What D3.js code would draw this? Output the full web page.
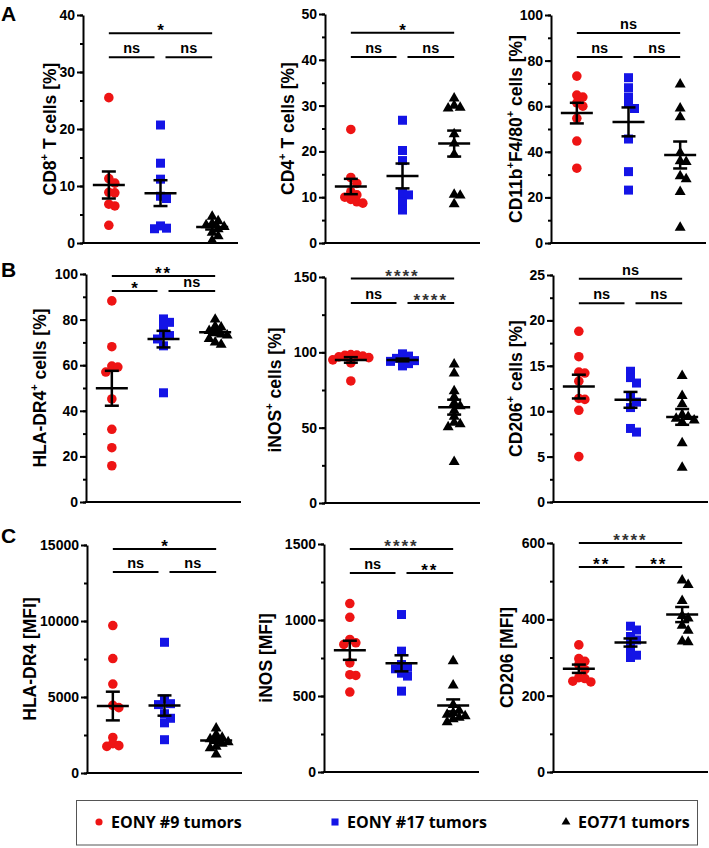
<!DOCTYPE html>
<html>
<head>
<meta charset="utf-8">
<script src="https://cdn.jsdelivr.net/npm/d3@7"></script>
<style>
  body { margin: 0; background: #fff; }
  svg { display: block; }
</style>
</head>
<body>
<div id="chart"></div>
<script>
// groups and colours
var groups = ['EONY #9 tumors', 'EONY #17 tumors', 'EO771 tumors'];
var groupColors = ['#ee1414', '#1414e6', '#000000'];

// row A: % of cells
var cd8Values = [
  [25.5, 11.3, 10.5, 8.8, 8.9, 6.8, 6.5, 3.1],
  [20.7, 14.0, 11.2, 8.2, 7.8, 3.0, 2.6, 2.5],
  [4.8, 4.0, 3.6, 3.3, 3.0, 2.6, 2.0, 1.4, 0.6]
];
var cd4Values = [
  [24.8, 14.3, 13.0, 11.2, 10.5, 10.0, 9.5, 9.0, 8.7],
  [26.8, 20.2, 18.0, 10.8, 10.5, 9.0, 7.2],
  [31.8, 30.2, 29.8, 29.6, 24.0, 22.0, 19.6, 10.8, 10.6, 8.7]
];
var cd11bValues = [
  [73.2, 64.9, 64.0, 61.5, 60.0, 54.7, 44.7, 32.8],
  [72.5, 68.1, 64.0, 61.3, 59.0, 45.6, 31.3, 23.2],
  [70.0, 59.5, 55.7, 40.0, 36.4, 36.0, 29.8, 28.5, 22.9, 7.2]
];

// row B: % of cells
var hlaPctValues = [
  [88.2, 68.1, 59.6, 59.2, 57.0, 45.2, 31.9, 23.8, 15.9],
  [80.3, 78.8, 77.5, 74.0, 73.0, 71.5, 68.5, 47.9],
  [80.5, 77.5, 77.0, 75.5, 74.5, 74.0, 73.5, 72.0, 70.5, 69.5]
];
var inosPctValues = [
  [98.5, 98.2, 98.0, 97.5, 97.0, 96.5, 95.0, 93.0, 81.0],
  [99.0, 97.5, 96.0, 95.0, 94.5, 94.0, 92.5, 91.0],
  [92.7, 86.7, 75.0, 71.0, 67.0, 65.0, 62.0, 58.0, 54.0, 53.0, 51.0, 28.0]
];
var cd206PctValues = [
  [18.8, 16.0, 14.3, 14.2, 13.3, 11.3, 11.4, 10.1, 5.0],
  [14.4, 13.7, 13.1, 11.6, 11.0, 10.4, 8.1, 7.7],
  [14.0, 11.8, 10.9, 9.7, 9.5, 9.3, 9.1, 8.9, 6.6, 3.9]
];

// row C: MFI
var hlaMfiValues = [
  [9700, 7530, 5850, 4450, 4300, 2340, 1930, 1800, 1750],
  [8600, 4860, 4560, 4500, 3900, 3600, 3300, 2190],
  [3000, 2600, 2400, 2300, 2200, 2100, 2000, 1800, 1700, 1300]
];
var inosMfiValues = [
  [1108, 1018, 872, 850, 839, 718, 640, 635, 526],
  [1036, 795, 707, 690, 679, 650, 631, 532],
  [736, 576, 449, 410, 395, 385, 375, 365, 355, 335]
];
var cd206MfiValues = [
  [333, 297, 290, 281, 268, 247, 245, 238, 236],
  [382, 372, 355, 346, 335, 318, 306, 300],
  [505, 493, 451, 412, 405, 386, 373, 345, 343]
];

var panelValues = [cd8Values, cd4Values, cd11bValues,
                   hlaPctValues, inosPctValues, cd206PctValues,
                   hlaMfiValues, inosMfiValues, cd206MfiValues];

// axis titles: [text, isSuperscript]
var panelTitles = [
  [['CD8'], ['+', 1], [' T cells [%]']],
  [['CD4'], ['+', 1], [' T cells [%]']],
  [['CD11b'], ['+', 1], ['F4/80'], ['+', 1], [' cells [%]']],
  [['HLA-DR4'], ['+', 1], [' cells [%]']],
  [['iNOS'], ['+', 1], [' cells [%]']],
  [['CD206'], ['+', 1], [' cells [%]']],
  [['HLA-DR4 [MFI]']],
  [['iNOS [MFI]']],
  [['CD206 [MFI]']]
];

var yMaxes     = [40, 50, 100, 100, 150, 25, 15000, 1500, 600];
var majorSteps = [10, 10, 20, 20, 50, 5, 5000, 500, 200];
var minorSteps = [5, 5, 10, 10, 25, 2.5, 2500, 250, 100];

// significance: [1 vs 3, 1 vs 2, 2 vs 3] and bar heights in data units [upper, lower]
var sigLabels = [
  ['*', 'ns', 'ns'], ['*', 'ns', 'ns'], ['ns', 'ns', 'ns'],
  ['**', '*', 'ns'], ['****', 'ns', '****'], ['ns', 'ns', 'ns'],
  ['*', 'ns', 'ns'], ['****', 'ns', '**'], ['****', '**', '**']
];
var sigHeights = [
  [36.8, 32.6], [45.9, 40.6], [92.1, 81.6],
  [99.1, 92.5], [149, 132.7], [24.6, 21.9],
  [14740, 13220], [1467, 1309], [600, 537]
];

var panelLetters = ['A', 'B', 'C'];

// layout
var W = 709, H = 848;
var axisWidth = 155;
var panelX      = [83, 325, 551, 86, 325, 553, 87, 324, 553];
var panelTop    = [15, 14, 15, 274, 277, 275, 545, 544, 543];
var panelBottom = [243, 243, 243, 502, 503, 502, 773, 772, 772];
var titleX      = [50, 288, 516, 40, 275, 516, 30, 266, 507];
var letterY     = [21, 277, 543];

var fontMain = '"Liberation Sans", Arial, sans-serif';

var svg = d3.select('#chart').append('svg')
    .attr('width', W)
    .attr('height', H)
    .style('font-family', fontMain);

var symbolTypes = [d3.symbolCircle, d3.symbolSquare, d3.symbolTriangle];
var symbolSizes = [72, 81, 52];

// spread overlapping points sideways, GraphPad style
function swarm(vals, y, minD, step) {
  var placed = [];
  vals.map(function(v, i) { return {v: v, i: i}; })
    .sort(function(a, b) { return b.v - a.v; })
    .forEach(function(p) {
      var py = y(p.v), k = 0, dx;
      while (true) {
        dx = k === 0 ? 0 : (k % 2 ? 1 : -1) * Math.ceil(k / 2) * step;
        var ok = placed.every(function(q) {
          return Math.hypot(q.dx - dx, q.py - py) >= minD;
        });
        if (ok || k > 6) break;
        k++;
      }
      placed.push({v: p.v, py: py, dx: dx});
    });
  return placed;
}

panelValues.forEach(function(values, pi) {
  var x0 = panelX[pi], top = panelTop[pi], bottom = panelBottom[pi];
  var g = svg.append('g').attr('transform', 'translate(' + x0 + ',0)');

  var y = d3.scaleLinear().domain([0, yMaxes[pi]]).range([bottom, top]);
  var x = d3.scaleBand().domain(groups).range([0, axisWidth]);
  var cx = function(gi) { return x(groups[gi]) + x.bandwidth() / 2; };

  // minor ticks
  g.append('g')
    .call(d3.axisLeft(y).tickValues(d3.range(0, yMaxes[pi] + 1e-9, minorSteps[pi]))
      .tickSize(3).tickSizeOuter(0).tickFormat(''))
    .call(function(a) { a.select('.domain').remove(); })
    .selectAll('line').attr('stroke-width', 2);

  // major ticks + labels
  var ax = g.append('g')
    .call(d3.axisLeft(y).tickValues(d3.range(0, yMaxes[pi] + 1e-9, majorSteps[pi]))
      .tickSize(6).tickSizeOuter(0).tickPadding(2).tickFormat(d3.format('d')));
  ax.select('.domain').attr('stroke-width', 2);
  ax.selectAll('line').attr('stroke-width', 2);
  ax.selectAll('text')
    .attr('font-size', 14)
    .attr('font-weight', 'bold')
    .attr('font-family', fontMain)
    .attr('fill', '#000');

  // x axis line
  g.append('line')
    .attr('x1', -1).attr('x2', axisWidth)
    .attr('y1', bottom).attr('y2', bottom)
    .attr('stroke', '#000').attr('stroke-width', 2);

  // y title
  var t = svg.append('text')
    .attr('transform', 'translate(' + titleX[pi] + ',' + ((top + bottom) / 2) + ') rotate(-90)')
    .attr('text-anchor', 'middle')
    .attr('dominant-baseline', 'central')
    .attr('font-size', 17.5)
    .attr('font-weight', 'bold');
  panelTitles[pi].forEach(function(seg) {
    var ts = t.append('tspan').text(seg[0]);
    if (seg[1]) ts.attr('baseline-shift', 'super').attr('font-size', 11);
  });

  // points
  values.forEach(function(vals, gi) {
    var pts = swarm(vals, y, 6, 6);
    g.selectAll('.pt' + gi)
      .data(pts)
      .enter().append('path')
      .attr('d', d3.symbol().type(symbolTypes[gi]).size(symbolSizes[gi]))
      .attr('transform', function(d) {
        return 'translate(' + (cx(gi) + d.dx) + ',' + (y(d.v) + (gi === 2 ? 1 : 0)) + ')';
      })
      .attr('fill', groupColors[gi]);

    // mean and SEM
    var m = d3.mean(vals);
    var sem = d3.deviation(vals) / Math.sqrt(vals.length);
    var eb = g.append('g').attr('stroke', '#000').attr('stroke-width', 2.5);
    eb.append('line').attr('x1', cx(gi) - 16).attr('x2', cx(gi) + 16)
      .attr('y1', y(m)).attr('y2', y(m));
    eb.append('line').attr('x1', cx(gi)).attr('x2', cx(gi))
      .attr('y1', y(m - sem)).attr('y2', y(m + sem));
    [m - sem, m + sem].forEach(function(v) {
      eb.append('line').attr('x1', cx(gi) - 7).attr('x2', cx(gi) + 7)
        .attr('y1', y(v)).attr('y2', y(v));
    });
  });

  // significance bars
  var hi = y(sigHeights[pi][0]), lo = y(sigHeights[pi][1]);
  var bars = [
    [cx(0), cx(2), hi, sigLabels[pi][0]],
    [cx(0), cx(1) - 6, lo, sigLabels[pi][1]],
    [cx(1) + 5, cx(2), lo, sigLabels[pi][2]]
  ];
  bars.forEach(function(b) {
    g.append('line')
      .attr('x1', b[0]).attr('x2', b[1])
      .attr('y1', b[2]).attr('y2', b[2])
      .attr('stroke', '#000').attr('stroke-width', 2);
    var star = b[3].indexOf('*') >= 0;
    g.append('text')
      .attr('x', (b[0] + b[1]) / 2)
      .attr('y', b[2] + (star ? 3 : -4))
      .attr('text-anchor', 'middle')
      .attr('font-size', star ? 17 : 14.5)
      .attr('font-weight', 'bold')
      .attr('fill', star && b[3].length > 2 ? '#333' : '#000')
      .attr('letter-spacing', star && b[3].length > 1 ? 2 : 0)
      .text(b[3]);
  });
});

// panel letters
panelLetters.forEach(function(l, i) {
  svg.append('text')
    .attr('x', 1).attr('y', letterY[i])
    .attr('font-size', 21)
    .attr('font-weight', 'bold')
    .text(l);
});

// legend
var legend = svg.append('g');
legend.append('rect')
  .attr('x', 76.5).attr('y', 800.5)
  .attr('width', 621).attr('height', 44.5)
  .attr('fill', 'none').attr('stroke', '#555').attr('stroke-width', 1);

var legendX = [99, 335, 566];
var legendSizes = [40, 50, 34];
var item = legend.selectAll('.item')
  .data(groups)
  .enter().append('g')
  .attr('transform', function(d, i) { return 'translate(' + legendX[i] + ',822)'; });

item.append('path')
  .attr('d', function(d, i) { return d3.symbol().type(symbolTypes[i]).size(legendSizes[i])(); })
  .attr('fill', function(d, i) { return groupColors[i]; });

item.append('text')
  .attr('x', 12)
  .attr('dy', '0.35em')
  .attr('font-family', '"Liberation Sans Narrow", "Open Sans", sans-serif')
  .attr('font-size', 16)
  .attr('font-weight', 'bold')
  .text(function(d) { return d; });
</script>
</body>
</html>
